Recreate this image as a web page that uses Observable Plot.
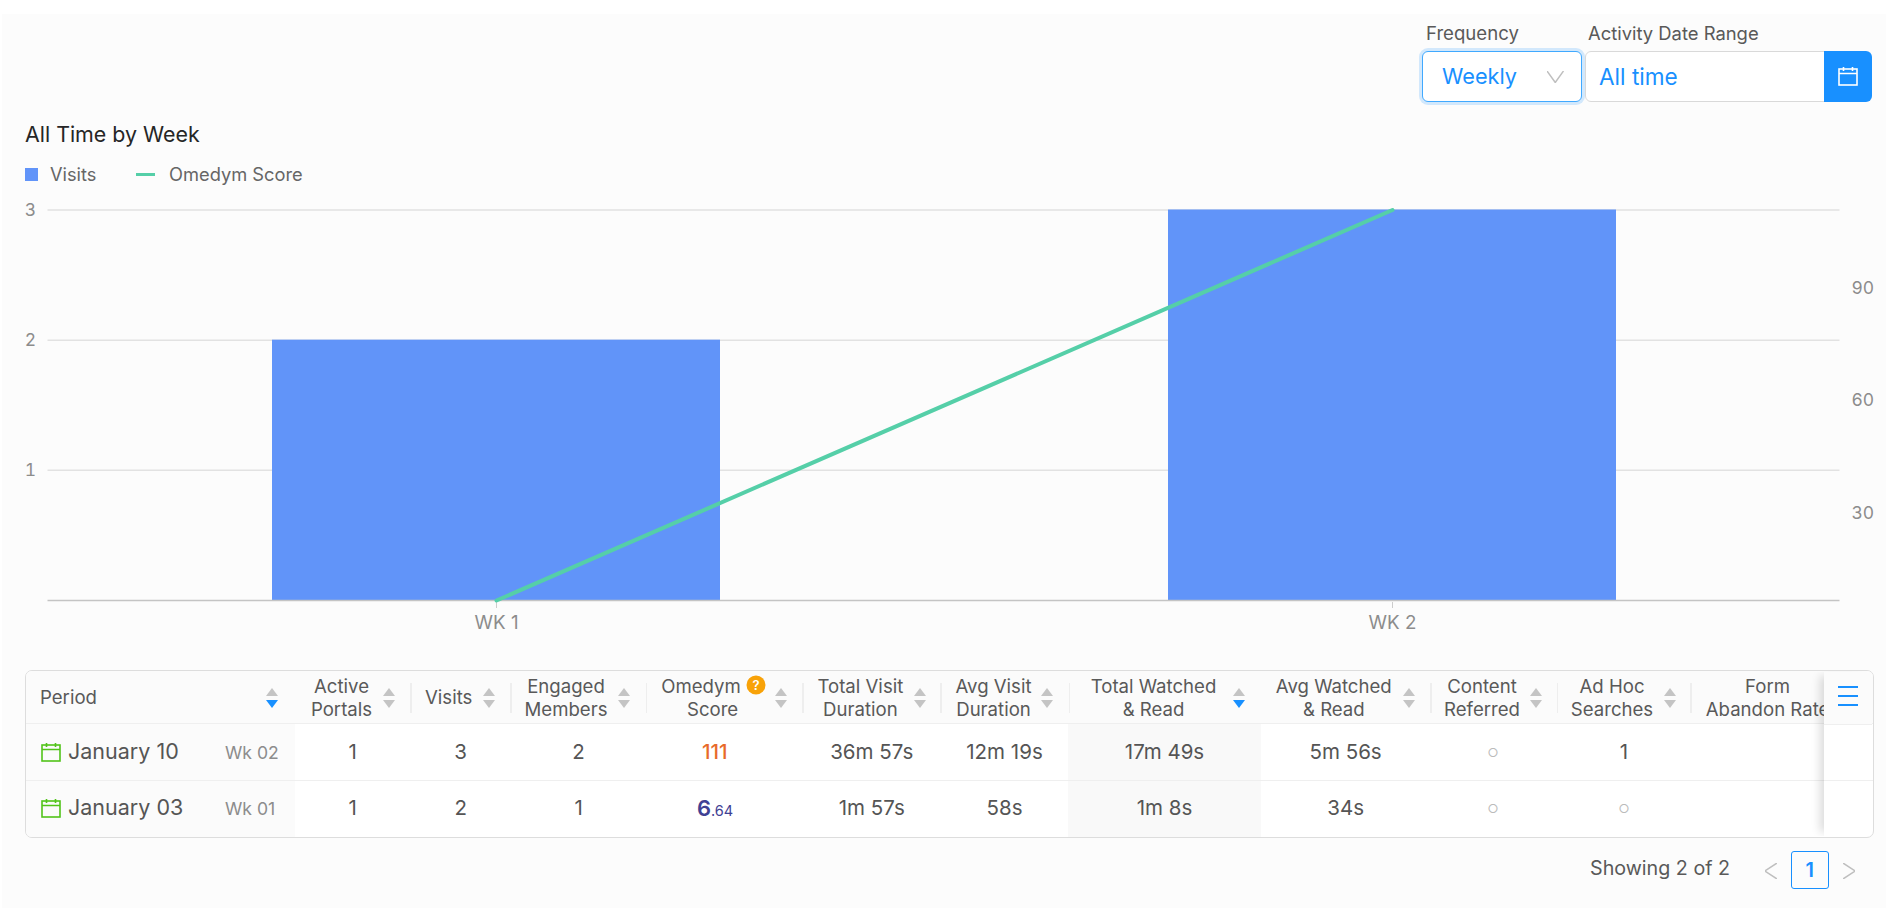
<!DOCTYPE html>
<html>
<head>
<meta charset="utf-8">
<script src="https://cdn.jsdelivr.net/npm/d3@7"></script>
<script src="https://cdn.jsdelivr.net/npm/@observablehq/plot@0.6"></script>
<style>
html,body{margin:0;padding:0;background:#fff;}
body{width:1886px;height:908px;overflow:hidden;position:relative;font-family:Inter,"Noto Sans",sans-serif;color:#555;}
#page{position:absolute;left:2px;top:14px;width:1884px;height:894px;background:#fcfcfc;}
.abs{position:absolute;white-space:nowrap;line-height:1;}
.mid{transform:translateY(-50%);}
.ctr{transform:translate(-50%,-50%);text-align:center;}
#bars,#line{position:absolute;left:0;top:190px;}
#bars svg,#line svg{display:block;background:transparent;overflow:visible;}
.box{position:absolute;box-sizing:border-box;background:#fff;}
.arrow{position:absolute;width:0;height:0;border-left:6px solid transparent;border-right:6px solid transparent;}
.up{border-bottom:8px solid #c4c4c4;}
.down{border-top:8px solid #c4c4c4;}
.down.on{border-top-color:#1890ff;}
.sep{position:absolute;width:1.5px;top:683px;height:30px;background:#eee;}
svg.icon{position:absolute;fill:none;}
</style>
</head>
<body>
<div id="page"></div>
<div id="bars"></div>
<div id="line"></div>
<div id="ui"></div>
<script>
// chart data
const weeks = ["WK 1", "WK 2"];
const visits = [2, 3];
const scores = [6.64, 111];
const visitTicks = [1, 2, 3];
const scoreTicks = [30, 60, 90];
const chartTitle = "All Time by Week";
const seriesNames = ["Visits", "Omedym Score"];

// table data
const headers = [
  ["Active", "Portals"], ["Visits"], ["Engaged", "Members"], ["Omedym", "Score"],
  ["Total Visit", "Duration"], ["Avg Visit", "Duration"], ["Total Watched", "& Read"],
  ["Avg Watched", "& Read"], ["Content", "Referred"], ["Ad Hoc", "Searches"], ["Form", "Abandon Rate"]
];
const periods = ["January 10", "January 03"];
const periodWeeks = ["Wk 02", "Wk 01"];
const activePortals = ["1", "1"];
const visitCells = ["3", "2"];
const engagedMembers = ["2", "1"];
const totalVisitDuration = ["36m 57s", "1m 57s"];
const avgVisitDuration = ["12m 19s", "58s"];
const totalWatched = ["17m 49s", "1m 8s"];
const avgWatched = ["5m 56s", "34s"];
const contentReferred = ["○", "○"];
const adHocSearches = ["1", "○"];

const chartRows = weeks.map((week, i) => ({week, visits: visits[i], score: scores[i]}));
const FONT = 'Inter,"Noto Sans",sans-serif';
const frame = {
  width: 1886, height: 460, marginLeft: 47.5, marginRight: 46.5, marginTop: 19.5, marginBottom: 50,
  style: {background: "transparent", fontFamily: FONT, fontSize: "17.5px", color: "#8c8c8c"}
};
const bandX = {domain: weeks, type: "band", paddingInner: 0.5, paddingOuter: 0.25, label: null};

document.getElementById("bars").append(Plot.plot({
  ...frame,
  x: bandX,
  y: {domain: [0, 3], label: null},
  marks: [
    Plot.ruleY(visitTicks, {stroke: "#e2e2e2", strokeWidth: 1.5}),
    Plot.barY(chartRows, {x: "week", y: "visits", fill: "#6194f9"}),
    Plot.ruleY([0], {stroke: "#c4c4c4", strokeWidth: 1.5}),
    Plot.axisY({ticks: visitTicks, tickSize: 0, tickPadding: 12, label: null, tickFormat: d3.format("d")}),
    Plot.axisX({tickSize: 6, tickPadding: 7, stroke: "#ccc", label: null, fontSize: 18.8, dy: 2})
  ]
}));

document.getElementById("line").append(Plot.plot({
  ...frame,
  x: {...bandX, axis: null},
  y: {domain: [scores[0], scores[1]], label: null},
  marks: [
    Plot.axisY({anchor: "right", ticks: scoreTicks, tickSize: 0, tickPadding: 11.5, label: null}),
    Plot.lineY(chartRows, {x: "week", y: "score", stroke: "#55cfa8", strokeWidth: 4})
  ]
}));

// page furniture (real text, built from the arrays above)
const ui = document.getElementById("ui");
function text(str, x, y, size, color, cls, extra) {
  const el = document.createElement("div");
  el.className = "abs " + (cls || "mid");
  el.textContent = str;
  el.style.cssText = `left:${x}px;top:${y}px;font-size:${size}px;color:${color};${extra || ""}`;
  ui.append(el);
  return el;
}
function box(x, y, w, h, css) {
  const el = document.createElement("div");
  el.className = "box";
  el.style.cssText = `left:${x}px;top:${y}px;width:${w}px;height:${h}px;${css || ""}`;
  ui.append(el);
  return el;
}
function calendar(x, y, w, h, color, sw) {
  const ns = "http://www.w3.org/2000/svg";
  const s = document.createElementNS(ns, "svg");
  s.setAttribute("class", "icon");
  s.setAttribute("viewBox", "0 0 20 20");
  s.style.cssText = `left:${x}px;top:${y}px;width:${w}px;height:${h}px;stroke:${color};stroke-width:${sw}`;
  s.innerHTML = '<rect x="1" y="3" width="18" height="16"/><path d="M1 7.5H19M5.5 1V5M14.5 1V5"/>';
  ui.append(s);
}
function chevron(x, y, w, h, color, pts) {
  const ns = "http://www.w3.org/2000/svg";
  const s = document.createElementNS(ns, "svg");
  s.setAttribute("class", "icon");
  s.setAttribute("viewBox", "0 0 10 10");
  s.setAttribute("preserveAspectRatio", "none");
  s.style.cssText = `left:${x}px;top:${y}px;width:${w}px;height:${h}px;stroke:${color};stroke-width:1.5px;`;
  s.innerHTML = `<path vector-effect="non-scaling-stroke" d="${pts}"/>`;
  ui.append(s);
}

// controls
text("Frequency", 1426, 32.5, 18.6, "#595959");
text("Activity Date Range", 1588, 32.5, 18.4, "#595959");
box(1422, 51, 159.5, 51, "border:1.5px solid #40a9ff;border-radius:6px;box-shadow:0 0 0 3px rgba(24,144,255,.18);");
text("Weekly", 1442, 76.5, 21.7, "#1890ff");
chevron(1547, 71, 16.5, 11.5, "#bfbfbf", "M0 0L5 10L10 0");
box(1584.5, 51, 242, 51, "border:1.5px solid #d9d9d9;border-radius:6px 0 0 6px;");
text("All time", 1599, 76.5, 22.6, "#1890ff");
box(1824, 51, 48, 51, "background:#1890ff;border-radius:0 6px 6px 0;");
calendar(1838, 66, 20, 20, "#fff", 1.6);

// title and legend
text(chartTitle, 25, 135, 21.4, "#262626");
box(25, 168, 13, 13, "background:#6194f9;");
text(seriesNames[0], 50, 174, 18.2, "#666");
box(136, 172.5, 19, 3, "background:#55cfa8;");
text(seriesNames[1], 169, 174, 18.3, "#666");

// table
const colEdges = [295, 410, 510, 645.5, 802, 940, 1068.5, 1261, 1430, 1556.5, 1690, 1823.5];
const headCenters = [341.5, 448.7, 566, 701, 860.4, 993.5, 1153.5, 1333.8, 1482, 1612, 1767.6];
const arrowCenters = [388.8, 488.8, 624, 781, 919.6, 1047, 1239, 1409, 1536, 1669.7];
const cellCenters = [352.7, 460.7, 578.6, 714.7, 871.8, 1004.5, 1164.5, 1345.6, 1493, 1624];
const rowY = [751.7, 807.7];
const columns = [activePortals, visitCells, engagedMembers, null, totalVisitDuration, avgVisitDuration, totalWatched, avgWatched, contentReferred, adHocSearches];
const HEAD = 18.6;

const table = box(25, 670, 1848.5, 167.5, "background:#fff;border:1.5px solid #ddd;border-radius:7px;overflow:hidden;");
const tableOrigin = [26.5, 671.5];
function inTable(x, y, w, h, css) {
  const el = document.createElement("div");
  el.style.cssText = `position:absolute;left:${x - tableOrigin[0]}px;top:${y - tableOrigin[1]}px;width:${w}px;height:${h}px;${css}`;
  table.append(el);
  return el;
}
inTable(26.5, 671, 1848, 53, "background:#fbfbfb;");
inTable(26.5, 724, 268.5, 114, "background:#fbfbfb;");
inTable(1068.5, 724, 192.5, 114, "background:#f9f9f9;");
inTable(26.5, 723.5, 1848, 1.2, "background:#efefef;");
inTable(26.5, 780, 1848, 1.2, "background:#efefef;");
colEdges.slice(1, -1).forEach(x => {
  if (x === 1261) return;
  const s = document.createElement("div");
  s.className = "sep";
  s.style.left = x + "px";
  ui.append(s);
});
function arrows(x, on) {
  const up = document.createElement("div");
  up.className = "arrow up";
  up.style.cssText = `left:${x - 6}px;top:688px;`;
  const down = document.createElement("div");
  down.className = "arrow down" + (on ? " on" : "");
  down.style.cssText = `left:${x - 6}px;top:700px;`;
  ui.append(up, down);
}
text("Period", 40, 697, HEAD, "#595959");
arrows(272, true);
headers.forEach((lines, i) => {
  if (lines.length === 1) {
    text(lines[0], headCenters[i], 696.5, HEAD, "#595959", "ctr");
  } else {
    const special = i === 3;
    text(lines[0], headCenters[i], 686, HEAD, "#595959", "ctr");
    text(lines[1], special ? 712.6 : headCenters[i], 709.3, HEAD, "#595959", "ctr");
  }
  if (i < arrowCenters.length) arrows(arrowCenters[i], i === 6);
});
// help badge
const badge = text("?", 756, 685, 13, "#fff", "ctr",
  "width:19px;height:19px;line-height:19px;border-radius:50%;background:#f8a208;font-weight:600;");

periods.forEach((p, r) => {
  calendar(41, rowY[r] - 10, 20, 20, "#52c41a", 1.6);
  text(p, 68, rowY[r], 21.5, "#555");
  text(periodWeeks[r], 225, rowY[r] + 1, 17.6, "#8c8c8c");
  columns.forEach((col, c) => {
    if (!col) return;
    const v = col[r];
    const zero = v === "○";
    text(v, cellCenters[c], rowY[r] + (zero ? 1.5 : 0), zero ? 12 : 20.5, zero ? "#bbb" : "#555", "ctr");
  });
});
text("111", 714.7, rowY[0], 20.5, "#e8692a", "ctr", "font-weight:500;");
const six = text("6", 715, rowY[1], 22, "#3f4194", "ctr", "font-weight:600;");
const frac = document.createElement("span");
frac.textContent = ".64";
frac.style.cssText = "font-size:14.5px;font-weight:400;";
six.append(frac);

// sticky column sits over the last header, clipping it
box(1823.5, 671.5, 48.5, 164.5, "background:#fff;box-shadow:-8px 0 10px -4px rgba(0,0,0,.14);border-radius:0 6px 6px 0;clip-path:inset(0 0 0 -16px);");
box(1823.5, 671.5, 48.5, 52, "background:#fbfbfb;border-radius:0 6px 0 0;");
box(1823.5, 723.5, 48.5, 1.2, "background:#efefef;");
box(1823.5, 780, 48.5, 1.2, "background:#efefef;");
[687, 696, 705].forEach(y => box(1838, y - 0.75, 19.5, 1.5, "background:#1890ff;"));

// pagination
text("Showing 2 of 2", 1590, 869, 19.7, "#595959");
chevron(1765, 863, 12, 16, "#bfbfbf", "M10 0L0 5L10 10");
box(1791, 851, 37.5, 38, "border:1.5px solid #1890ff;border-radius:3px;background:transparent;");
text("1", 1809.7, 870, 20, "#1890ff", "ctr", "font-weight:600;");
chevron(1843, 863, 12, 16, "#bfbfbf", "M0 0L10 5L0 10");
</script>
</body>
</html>
